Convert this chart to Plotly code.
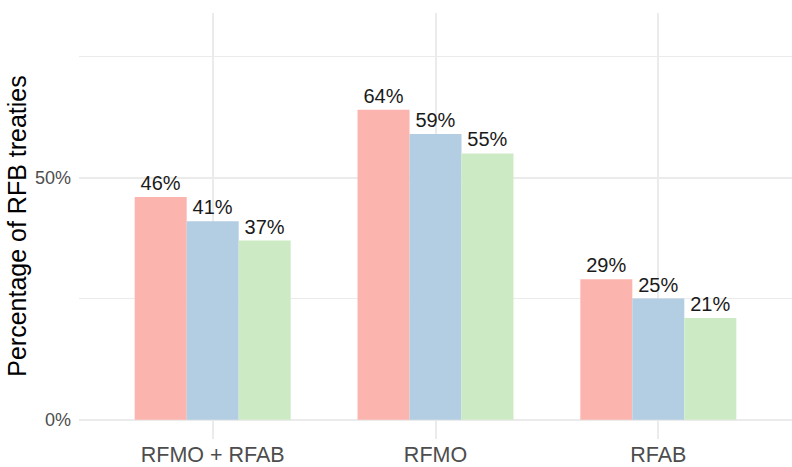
import plotly.graph_objects as go

categories = ["RFMO + RFAB", "RFMO", "RFAB"]
series_names = ["Group 1", "Group 2", "Group 3"]
series_values = [
    [0.46, 0.64, 0.29],
    [0.41, 0.59, 0.25],
    [0.37, 0.55, 0.21],
]
series_colors = ["#FBB4AE", "#B3CDE3", "#CCEBC5"]
y_tickvals = [0, 0.5]
y_ticktext = ["0%", "50%"]

FONT = "Liberation Sans, Arial, sans-serif"

fig = go.Figure()
for name, vals, col in zip(series_names, series_values, series_colors):
    fig.add_trace(go.Bar(
        x=categories, y=vals, name=name,
        marker=dict(color=col, line=dict(width=0)),
        text=[f"{round(v*100)}%" for v in vals],
        textposition="outside",
        constraintext="none",
        cliponaxis=False,
        textfont=dict(family=FONT, size=20, color="#1a1a1a"),
        hoverinfo="skip",
    ))

fig.update_layout(
    width=792, height=467,
    margin=dict(l=79, r=0, t=13, b=28),
    paper_bgcolor="white", plot_bgcolor="white",
    barmode="group", bargap=0.3, bargroupgap=0,
    showlegend=False,
    font=dict(family=FONT),
)
fig.update_xaxes(
    range=[-0.6, 2.6], automargin=False,
    showgrid=True, gridcolor="#EBEBEB", gridwidth=1.5,
    showline=False, zeroline=False, ticks="",
    tickfont=dict(family=FONT, size=21.5, color="#4D4D4D"),
    ticklabelstandoff=0,
)
fig.update_yaxes(
    range=[-0.04, 0.84], automargin=False,
    tickvals=y_tickvals, ticktext=y_ticktext,
    showgrid=True, gridcolor="#EBEBEB", gridwidth=1.5,
    minor=dict(tickvals=[0.25, 0.75], showgrid=True, gridcolor="#EBEBEB", gridwidth=1, ticks=""),
    showline=False, zeroline=False, ticks="",
    tickfont=dict(family=FONT, size=18, color="#4D4D4D"),
    ticklabelstandoff=7,
    title=dict(text="Percentage of RFB treaties", font=dict(family=FONT, size=25, color="#000000"), standoff=1),
)

fig.write_html(
    "out.html",
    config={"displayModeBar": False},
    post_script="document.body.style.margin='0';document.body.style.overflow='hidden';",
)
